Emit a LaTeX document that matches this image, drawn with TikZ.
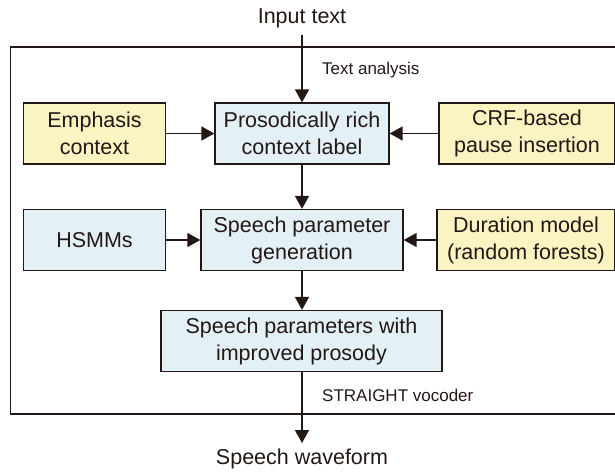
\documentclass[tikz,border=0pt]{standalone}
\usepackage{fontspec}
\setmainfont{Liberation Sans}
\usetikzlibrary{arrows.meta}
\definecolor{boxblue}{HTML}{E3F0F6}
\definecolor{boxyellow}{HTML}{FAF4C2}
\definecolor{ink}{HTML}{231815}
\begin{document}
\begin{tikzpicture}[x=1pt,y=-1pt,
  every node/.style={font=\fontsize{21.5}{27}\selectfont, text=ink},
  procbox/.style={draw=ink, line width=1.3pt, align=center, inner sep=0pt, minimum height=61pt},
  bluebox/.style={procbox, fill=boxblue},
  yellowbox/.style={procbox, fill=boxyellow},
  flow/.style={draw=ink, line width=1.5pt, -{Triangle[length=13pt,width=14pt]}},
  steplabel/.style={font=\fontsize{17}{20}\selectfont, anchor=west, inner sep=0pt}
]
\useasboundingbox (0,0) rectangle (615,471);
\clip (0,0) rectangle (615,471);

% outer frame of the synthesis system
\draw[ink, line width=1.3pt] (10.5,47) rectangle (640,414);

% input and output texts
\node (in) at (302,18) {Input text};
\node (out) at (302,459) {Speech waveform};
\coordinate (inTail) at (302,35);
\coordinate (outTip) at (302,443);

% first row
\node[yellowbox, minimum width=142pt] (emp) at (94.5,133.5) {Emphasis\\context};
\node[bluebox, minimum width=174pt] (prc) at (302,133.5) {Prosodically rich\\context label};
\node[yellowbox, minimum width=176pt] (crf) at (527,133.5) {CRF-based\\pause insertion};

% second row
\node[bluebox, minimum width=142pt] (hsmm) at (94.5,240) {HSMMs};
\node[bluebox, minimum width=202pt] (spg) at (302,240) {Speech parameter\\generation};
\node[yellowbox, minimum width=178pt] (dur) at (526,240) {Duration model\\(random forests)};

% third row
\node[bluebox, minimum width=281pt] (spp) at (301.5,341) {Speech parameters with\\improved prosody};

% step labels
\node[steplabel] (ta) at (322,70) {Text analysis};
\node[steplabel] (sv) at (322,395) {STRAIGHT vocoder};

% connectors
\draw[flow] (inTail) -- (prc.north);
\draw[flow] (emp) -- (prc);
\draw[flow] (crf) -- (prc);
\draw[flow] (prc) -- (spg);
\draw[flow] (hsmm) -- (spg);
\draw[flow] (dur) -- (spg);
\draw[flow] (spg.south) -- (spp.north -| spg.south);
\draw[flow] (spp.south -| outTip) -- (outTip);
\end{tikzpicture}
\end{document}
